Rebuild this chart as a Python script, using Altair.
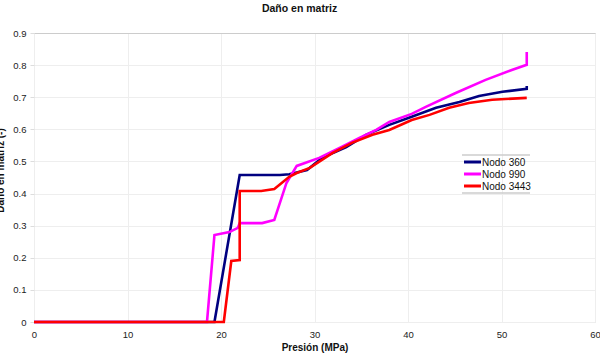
import altair as alt
import pandas as pd

series_names = ["Nodo 360", "Nodo 990", "Nodo 3443"]
series_colors = ["#000080", "#FF00FF", "#FF0000"]

x_360 = [0, 19.3, 22.0, 26.3, 27.3, 29.2, 30.8, 33.4, 35.5, 38.0, 40.4, 43.0, 45.5, 47.6, 50.1, 52.7, 52.7]
y_360 = [0, 0, 0.458, 0.458, 0.46, 0.473, 0.511, 0.545, 0.583, 0.614, 0.639, 0.667, 0.685, 0.704, 0.717, 0.726, 0.735]

x_990 = [0, 18.5, 19.3, 20.9, 21.8, 22.0, 24.4, 25.7, 27.0, 28.1, 30.5, 32.9, 34.8, 36.6, 38.0, 40.4, 41.9, 45.1, 48.3, 51.1, 52.7, 52.7]
y_990 = [0, 0, 0.271, 0.28, 0.293, 0.308, 0.308, 0.318, 0.433, 0.486, 0.511, 0.545, 0.573, 0.598, 0.623, 0.648, 0.670, 0.713, 0.754, 0.785, 0.801, 0.841]

x_3443 = [0, 20.3, 21.1, 22.0, 22.0, 24.3, 25.7, 27.3, 28.1, 29.5, 31.9, 34.0, 36.2, 38.0, 40.4, 42.3, 44.4, 46.5, 49.0, 52.7]
y_3443 = [0, 0, 0.190, 0.193, 0.408, 0.408, 0.414, 0.452, 0.464, 0.48, 0.526, 0.558, 0.583, 0.598, 0.629, 0.645, 0.667, 0.682, 0.692, 0.698]

x_ticks = [0, 10, 20, 30, 40, 50, 60]
y_ticks = [0, 0.1, 0.2, 0.3, 0.4, 0.5, 0.6, 0.7, 0.8, 0.9]

rows = []
for name, xs, ys in zip(series_names, [x_360, x_990, x_3443], [y_360, y_990, y_3443]):
    for i, (a, b) in enumerate(zip(xs, ys)):
        rows.append({"serie": name, "presion": a, "dano": b, "idx": i})
df = pd.DataFrame(rows)

FONT = "Liberation Sans"
color_scale = alt.Scale(domain=series_names, range=series_colors)

lines = alt.Chart(df).mark_line(strokeWidth=2.6, interpolate="linear").encode(
    x=alt.X("presion:Q", title="Presión (MPa)",
            scale=alt.Scale(domain=[0, 60], nice=False, zero=False),
            axis=alt.Axis(values=x_ticks, grid=True, gridColor="#eeeeee", domain=False, ticks=False,
                          labelPadding=7, labelFontSize=9.5, labelColor="#222", labelFont=FONT,
                          titleFont=FONT, titleFontSize=10, titleFontWeight="bold", titleColor="#111",
                          titlePadding=4, labelFlush=False)),
    y=alt.Y("dano:Q", title="Daño en matriz (-)",
            scale=alt.Scale(domain=[0, 0.9], nice=False),
            axis=alt.Axis(values=y_ticks, grid=True, format="~g",
                          gridColor=alt.condition("datum.value >= 0.85", alt.value("#cccccc"), alt.value("#eeeeee")),
                          domain=False, tickSize=4, tickColor="#dddddd", labelPadding=4,
                          labelFontSize=9.5, labelColor="#222", labelFont=FONT,
                          titleFont=FONT, titleFontSize=10, titleFontWeight="bold", titleColor="#111",
                          titleX=-29, titleY=137, titleAnchor="middle")),
    color=alt.Color("serie:N", scale=color_scale, legend=None),
    detail="serie:N",
    order="idx:Q",
)

# custom legend (box at the right of the plot)
leg = pd.DataFrame({"serie": series_names, "k": [0, 1, 2]})
leg_x0, leg_y0, leg_step = 430, 129, 12

leg_lines = alt.Chart(leg).transform_calculate(
    py=f"{leg_y0} + datum.k * {leg_step}"
).mark_rule(strokeWidth=3).encode(
    x=alt.value(leg_x0), x2=alt.value(leg_x0 + 17),
    y=alt.Y("py:Q", scale=None),
    color=alt.Color("serie:N", scale=color_scale, legend=None),
)
leg_text = alt.Chart(leg).transform_calculate(
    py=f"{leg_y0} + datum.k * {leg_step}"
).mark_text(align="left", baseline="middle", font=FONT, fontSize=10, color="#111", dx=0, dy=1).encode(
    x=alt.value(leg_x0 + 18),
    y=alt.Y("py:Q", scale=None),
    text="serie:N",
)
legend_border = alt.Chart(pd.DataFrame({"y": [122, 160]})).mark_rule(color="#cccccc", strokeWidth=1.5).encode(
    x=alt.value(428), x2=alt.value(496), y=alt.Y("y:Q", scale=None)
)

chart = alt.layer(lines, legend_border, leg_lines, leg_text).properties(
    width=561, height=289,
    title=alt.TitleParams("Daño en matriz", font=FONT, fontSize=10.5, fontWeight="bold",
                          color="#111", anchor="middle", dx=-15, offset=14),
    autosize=alt.AutoSizeParams(type="none"),
    padding={"left": 34, "top": 33, "right": 5, "bottom": 31},
).configure_view(stroke=None).configure(background="white")

chart.save("out.html", embed_options={"renderer": "svg", "actions": False})
